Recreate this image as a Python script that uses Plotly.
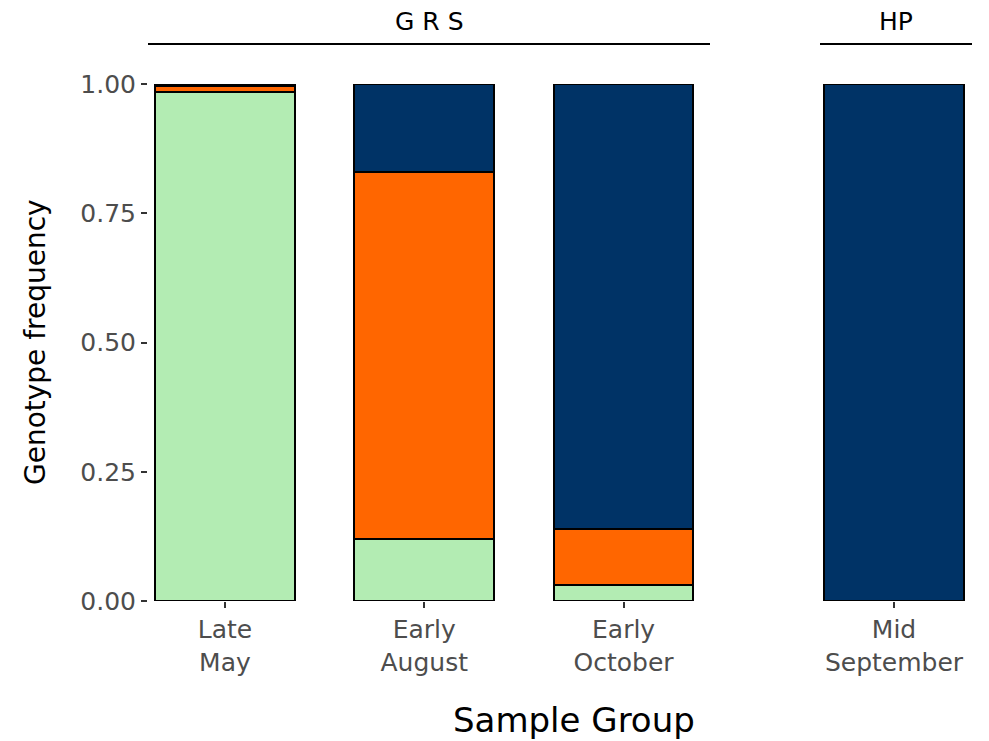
import plotly.graph_objects as go

W, H = 989, 741

grs_groups = ["Late<br>May", "Early<br>August", "Early<br>October"]
hp_groups = ["Mid<br>September"]

# genotype frequencies (bottom -> top)
grs_green = [0.985, 0.12, 0.03]
grs_orange = [0.012, 0.71, 0.11]
grs_navy = [0.003, 0.17, 0.86]
hp_green = [0.0]
hp_orange = [0.0]
hp_navy = [1.0]

series_names = ["Genotype 1", "Genotype 2", "Genotype 3"]
colors = ["#b3ecb3", "#ff6600", "#003366"]

y_ticks = [0, 0.25, 0.5, 0.75, 1.0]
y_ticklabels = ["0.00", "0.25", "0.50", "0.75", "1.00"]

fig = go.Figure()

for name, vals, col in zip(series_names, [grs_green, grs_orange, grs_navy], colors):
    fig.add_trace(go.Bar(x=grs_groups, y=vals, name=name, marker_color=col,
                         marker_line=dict(color="black", width=2), width=0.7,
                         xaxis="x", yaxis="y", showlegend=False))
for name, vals, col in zip(series_names, [hp_green, hp_orange, hp_navy], colors):
    fig.add_trace(go.Bar(x=hp_groups, y=vals, name=name, marker_color=col,
                         marker_line=dict(color="black", width=2), width=0.7,
                         xaxis="x2", yaxis="y2", showlegend=False))

px_per_unit = 199.5
def dom_x(a, b):
    return [a / W, b / W]

y_dom = [(H - 601) / H, (H - 84) / H]

font_family = "DejaVu Sans, Verdana, sans-serif"
xtickfont = dict(family=font_family, size=25, color="#4d4d4d")
ytickfont = dict(family=font_family, size=25, color="#4d4d4d")

fig.update_layout(
    template="none",
    width=W, height=H,
    margin=dict(l=0, r=0, t=0, b=0, pad=0, autoexpand=False),
    paper_bgcolor="white", plot_bgcolor="white",
    barmode="stack",
    font=dict(family=font_family),
    xaxis=dict(domain=dom_x(148, 710),
               range=[-(225 - 148) / px_per_unit, 2 + (710 - 623.5) / px_per_unit],
               showgrid=False, zeroline=False, showline=False, automargin=False,
               ticks="outside", ticklen=6, tickwidth=1.5, tickcolor="#333333",
               tickfont=xtickfont, fixedrange=True),
    xaxis2=dict(domain=dom_x(820, 972),
                range=[-(894 - 820) / px_per_unit, (972 - 894) / px_per_unit],
                showgrid=False, zeroline=False, showline=False, automargin=False,
                ticks="outside", ticklen=6, tickwidth=1.5, tickcolor="#333333",
                tickfont=xtickfont, fixedrange=True, anchor="y2"),
    yaxis=dict(domain=y_dom, range=[0, 1], tickvals=y_ticks, ticktext=y_ticklabels,
               showgrid=False, zeroline=False, showline=False, automargin=False,
               ticks="outside", ticklen=6, tickwidth=1.5, tickcolor="#333333",
               tickfont=ytickfont, fixedrange=True),
    yaxis2=dict(domain=y_dom, range=[0, 1], anchor="x2", showticklabels=False,
                automargin=False,
                showgrid=False, zeroline=False, showline=False, ticks="", fixedrange=True),
)

# facet strips
fig.add_shape(type="line", xref="x domain", yref="paper", x0=0, x1=1,
              y0=(H - 44) / H, y1=(H - 44) / H, line=dict(color="black", width=2))
fig.add_shape(type="line", xref="x2 domain", yref="paper", x0=0, x1=1,
              y0=(H - 44) / H, y1=(H - 44) / H, line=dict(color="black", width=2))
fig.add_annotation(text="G R S", xref="x domain", yref="paper", x=0.5, y=(H - 21) / H,
                   xanchor="center", yanchor="middle",
                   showarrow=False, font=dict(family=font_family, size=25, color="black"))
fig.add_annotation(text="HP", xref="x2 domain", yref="paper", x=0.5, y=(H - 21) / H,
                   xanchor="center", yanchor="middle",
                   showarrow=False, font=dict(family=font_family, size=25, color="black"))

# axis titles
fig.add_annotation(text="Genotype frequency", xref="paper", yref="paper",
                   x=35 / W, y=(H - 342) / H, textangle=-90, showarrow=False,
                   xanchor="center", yanchor="middle",
                   font=dict(family=font_family, size=28, color="black"))
fig.add_annotation(text="Sample Group", xref="paper", yref="paper",
                   x=574 / W, y=(H - 720) / H, showarrow=False,
                   xanchor="center", yanchor="middle",
                   font=dict(family=font_family, size=34, color="black"))

fig.write_html("out.html", config={"displayModeBar": False},
               post_script="document.body.style.margin='0';document.body.style.padding='0';")
